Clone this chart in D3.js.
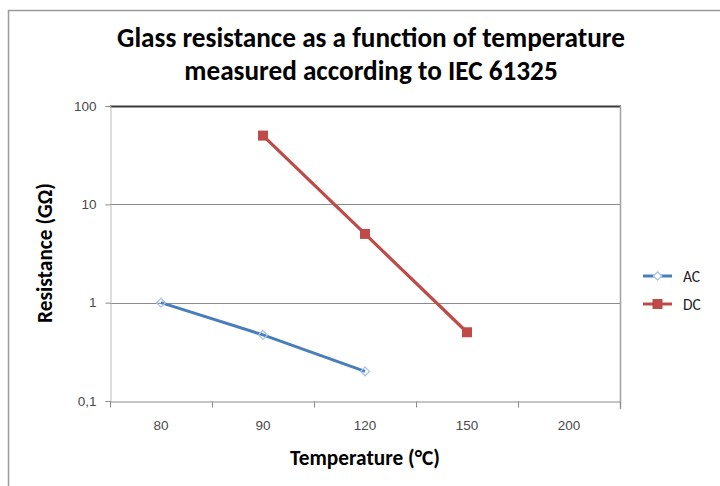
<!DOCTYPE html>
<html>
<head>
<meta charset="utf-8">
<script src="https://cdn.jsdelivr.net/npm/d3@7"></script>
<style>
  html, body { margin: 0; padding: 0; background: #fff; }
  svg { display: block; }
</style>
</head>
<body>
<svg id="chart" width="720" height="486"></svg>
<script>
// ---- data ----
const categories = ["80", "90", "120", "150", "200"];
const seriesNames = ["AC", "DC"];
const acValues = [1.0, 0.47, 0.2, null, null];
const dcValues = [null, 50, 5, 0.5, null];
const yTickValues = [0.1, 1, 10, 100];
const yTickLabels = ["0,1", "1", "10", "100"];
const titleLines = ["Glass resistance as a function of temperature", "measured according to IEC 61325"];
const xTitle = "Temperature (°C)";
const yTitle = "Resistance (GΩ)";

const colors = { AC: "#4a7ebb", DC: "#be4b48" };

const svg = d3.select("#chart");
const plot = { left: 110, right: 620, top: 106, bottom: 401 };

// fit helper: scale font size so text width matches target
function fit(el, target, base) {
  const len = el.node().getComputedTextLength();
  el.attr("font-size", base * target / len);
  return el;
}

// outer chart frame
svg.append("rect").attr("x", 8.5).attr("y", 10.5).attr("width", 760).attr("height", 520)
  .attr("fill", "#fff").attr("stroke", "#9a9a9a").attr("stroke-width", 1.5);

const x = d3.scaleBand().domain(categories).range([plot.left, plot.right]);
const y = d3.scaleLog().domain([0.1, 100]).range([plot.bottom, plot.top]);

// title
const titleFont = "Carlito, 'Open Sans', 'Liberation Sans', sans-serif";
const titleTargets = [513, 370];
const titleYs = [47, 80];
const titleEls = titleLines.map((t, i) => fit(svg.append("text").attr("x", 371).attr("y", titleYs[i])
  .attr("text-anchor", "middle").attr("font-family", titleFont)
  .attr("font-weight", "bold").attr("font-size", 20).attr("fill", "#000").text(t), titleTargets[i], 20));
{
  const fs = d3.mean(titleEls, e => +e.attr("font-size"));
  titleEls.forEach(e => e.attr("font-size", fs));
}

// gridlines
svg.append("g").selectAll("line").data(yTickValues.filter(v => v > 0.1 && v < 100)).join("line")
  .attr("x1", plot.left).attr("x2", plot.right)
  .attr("y1", d => Math.round(y(d)) + 0.5).attr("y2", d => Math.round(y(d)) + 0.5)
  .attr("stroke", "#8c8c8c").attr("stroke-width", 1);

// top border (dark)
svg.append("line").attr("x1", plot.left).attr("x2", plot.right + 1)
  .attr("y1", plot.top + 0.5).attr("y2", plot.top + 0.5)
  .attr("stroke", "#3a3a3a").attr("stroke-width", 2);
// right border
svg.append("line").attr("x1", plot.right + 0.5).attr("x2", plot.right + 0.5)
  .attr("y1", plot.top).attr("y2", plot.bottom + 8)
  .attr("stroke", "#a0a0a0").attr("stroke-width", 1.5);

const tickFont = "'Liberation Sans', Arial, sans-serif";
// y axis
const yAxis = d3.axisLeft(y).tickValues(yTickValues)
  .tickFormat((d, i) => yTickLabels[i]).tickSize(5).tickPadding(9);
const gy = svg.append("g").attr("transform", `translate(${plot.left + 0.5},0)`).call(yAxis);
gy.select(".domain").attr("stroke", "#bdbdbd");
gy.selectAll(".tick line").attr("stroke", "#8c8c8c");
gy.selectAll(".tick text").attr("font-family", tickFont)
  .attr("font-size", 13.5).attr("fill", "#4a4a4a");

// x axis
const xAxis = d3.axisBottom(x).tickSize(0).tickPadding(19);
const gx = svg.append("g").attr("transform", `translate(0,${plot.bottom + 0.5})`).call(xAxis);
gx.select(".domain").attr("stroke", "#8c8c8c");
gx.selectAll(".tick text").attr("font-family", tickFont)
  .attr("font-size", 13.5).attr("fill", "#4a4a4a");
// category boundary tick marks
const bounds = categories.map(c => x(c)).concat([x(categories[categories.length - 1]) + x.bandwidth()]);
gx.selectAll("line.bound").data(bounds).join("line").attr("class", "bound")
  .attr("x1", d => Math.round(d) + 0.5).attr("x2", d => Math.round(d) + 0.5)
  .attr("y1", 0).attr("y2", 6).attr("stroke", "#8c8c8c");

// axis titles
fit(svg.append("text").attr("x", 365).attr("y", 465).attr("text-anchor", "middle")
  .attr("font-family", titleFont).attr("font-weight", "bold").attr("font-size", 16)
  .attr("fill", "#000").text(xTitle), 150, 16);
fit(svg.append("text").attr("transform", "translate(52,253) rotate(-90)").attr("text-anchor", "middle")
  .attr("font-family", titleFont).attr("font-weight", "bold").attr("font-size", 16)
  .attr("fill", "#000").text(yTitle), 140, 16);

// series
const series = [
  { name: "AC", values: acValues },
  { name: "DC", values: dcValues }
];
const cx = c => x(c) + x.bandwidth() / 2;
const line = d3.line().defined(d => d.v != null).x(d => cx(d.c)).y(d => y(d.v));

series.forEach(s => {
  const pts = categories.map((c, i) => ({ c, v: s.values[i] }));
  svg.append("path").datum(pts).attr("d", line).attr("fill", "none")
    .attr("stroke", colors[s.name]).attr("stroke-width", s.name === "AC" ? 3 : 3.2)
    .attr("stroke-linejoin", "round");
  const valid = pts.filter(d => d.v != null);
  if (s.name === "AC") {
    svg.append("g").selectAll("path").data(valid).join("path")
      .attr("d", d3.symbol(d3.symbolDiamond2, 50)())
      .attr("transform", d => `translate(${cx(d.c)},${y(d.v)})`)
      .attr("fill", "none").attr("stroke", "#a9c4ea").attr("stroke-width", 1.3);
  } else {
    svg.append("g").selectAll("rect").data(valid).join("rect")
      .attr("x", d => cx(d.c) - 5).attr("y", d => y(d.v) - 5)
      .attr("width", 10).attr("height", 10).attr("fill", colors.DC);
  }
});

// legend
const legendYs = [276, 304];
seriesNames.forEach((n, i) => {
  const ly = legendYs[i];
  svg.append("line").attr("x1", 643).attr("x2", 672).attr("y1", ly).attr("y2", ly)
    .attr("stroke", colors[n]).attr("stroke-width", 3);
  if (n === "AC") {
    svg.append("path").attr("d", d3.symbol(d3.symbolDiamond2, 45)())
      .attr("transform", `translate(657.5,${ly})`)
      .attr("fill", "#fff").attr("stroke", "#a9c4ea").attr("stroke-width", 1.3);
  } else {
    svg.append("rect").attr("x", 652.5).attr("y", ly - 5).attr("width", 10).attr("height", 10)
      .attr("fill", colors.DC);
  }
  svg.append("text").attr("x", 683).attr("y", ly + 5.5).attr("font-family", titleFont)
    .attr("font-size", 15.5).attr("fill", "#222").text(n);
});
</script>
</body>
</html>
